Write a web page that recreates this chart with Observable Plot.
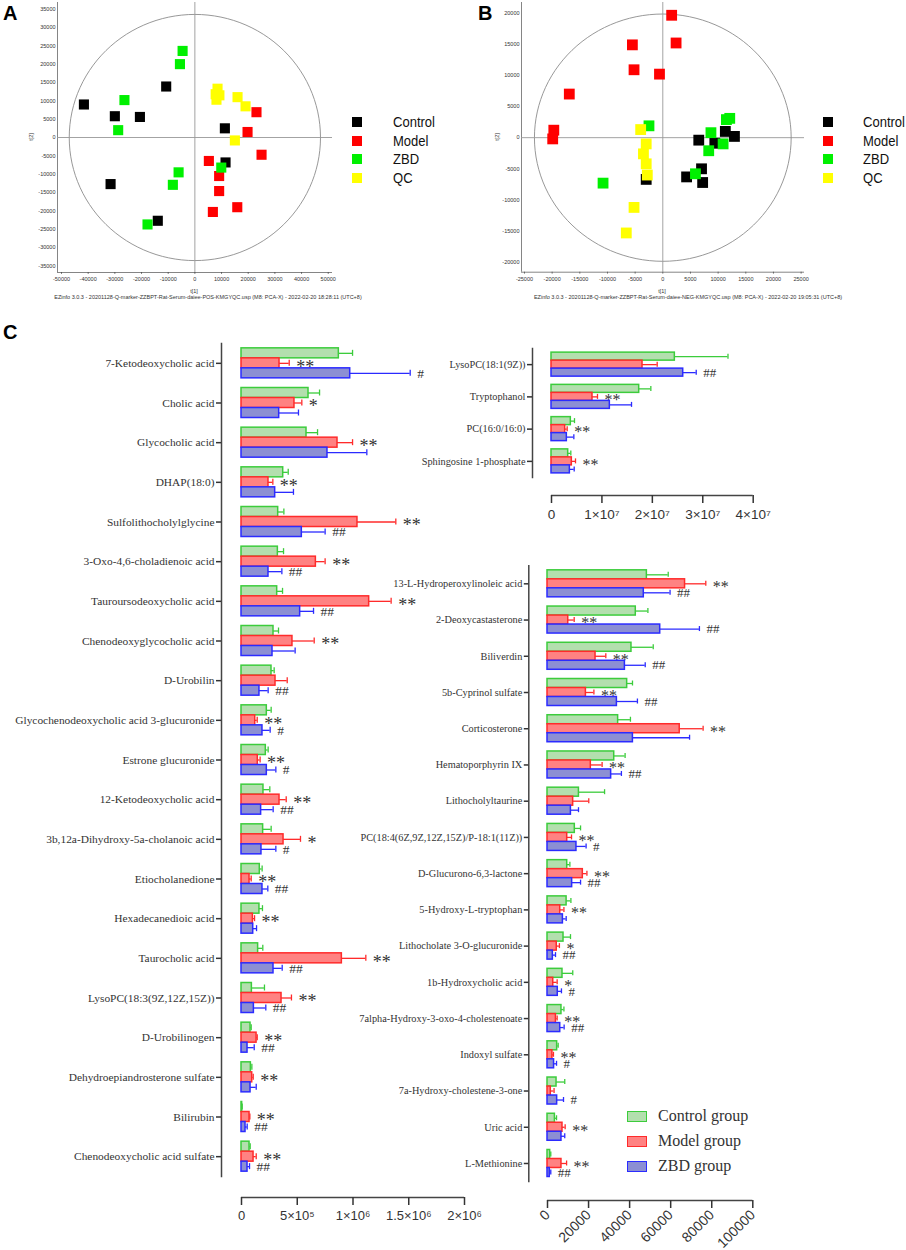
<!DOCTYPE html>
<html><head><meta charset="utf-8">
<script src="https://cdn.jsdelivr.net/npm/d3@7"></script>
<script src="https://cdn.jsdelivr.net/npm/@observablehq/plot@0.6"></script>
<style>
html,body{margin:0;padding:0;background:#fff;}
#root{position:relative;width:906px;height:1250px;overflow:hidden;font-family:"Liberation Sans",Arial,sans-serif;color:#222;}
.abs{position:absolute;}
.abs svg{overflow:visible;}
.lbl{position:absolute;white-space:nowrap;line-height:1;}
</style></head>
<body><div id="root"></div>
<script>
const SERIF = "Liberation Serif, Times New Roman, serif";
const SANS = "Liberation Sans, Arial, sans-serif";

// ---------------- PCA score plots (A: POS, B: NEG) ----------------
const pcaGroups = ["Control", "Model", "ZBD", "QC"];
const pcaColors = ["#000000", "#ff0000", "#00f000", "#ffff00"];

const posT1 = [
  [-41600, -10750, -30000, -20600, 11250, 11500, -31600, -13900],
  [23100, 19750, 25000, 5250, 9100, 9100, 15900, 6750],
  [-4600, -5600, -26400, -28750, -6100, -8250, 9900, -17750],
  [8500, 8100, 9200, 7800, 16000, 19000, 15000]
];
const posT2 = [
  [9000, 13900, 5800, 5600, 2500, -6800, -12700, -22700],
  [6900, 1500, -4700, -6400, -10500, -14600, -19000, -20300],
  [23600, 20000, 10200, 2000, -9500, -12900, -8200, -23700],
  [13300, 10300, 11500, 11800, 11000, 8500, -800]
];
const negT1 = [
  [6500, 11300, 12950, 9400, 7000, 4300, 7200, -3000],
  [1600, 2400, -5500, -5200, -600, -16900, -19700, -19900],
  [-2500, 12100, 11500, 8700, 10900, 8300, 5900, -10800],
  [-4000, -3000, -3500, -3000, -2800, -5200, -6600]
];
const negT2 = [
  [-400, 1000, 200, -900, -5000, -6300, -7200, -6700],
  [19650, 15200, 14900, 10900, 10200, 7000, 1200, -200],
  [1900, 3100, 2900, 800, -1000, -2100, -5800, -7300],
  [1300, -1000, -2600, -4200, -6000, -11200, -15300]
];
const posXTicks = [-50000, -40000, -30000, -20000, -10000, 0, 10000, 20000, 30000, 40000, 50000];
const posYTicks = [-35000, -30000, -25000, -20000, -15000, -10000, -5000, 0, 5000, 10000, 15000, 20000, 25000, 30000, 35000];
const negXTicks = [-25000, -20000, -15000, -10000, -5000, 0, 5000, 10000, 15000, 20000, 25000];
const negYTicks = [-20000, -15000, -10000, -5000, 0, 5000, 10000, 15000, 20000];
const posEllipse = [47100, 33550];
const negEllipse = [23200, 19850];
const posCaption = "EZinfo 3.0.3 - 20201128-Q-marker-ZZBPT-Rat-Serum-daiee-POS-KMGYQC.usp (M8: PCA-X) - 2022-02-20 18:28:11 (UTC+8)";
const negCaption = "EZinfo 3.0.3 - 20201128-Q-marker-ZZBPT-Rat-Serum-daiee-NEG-KMGYQC.usp (M8: PCA-X) - 2022-02-20 19:05:31 (UTC+8)";

// ---------------- Panel C bar charts ----------------
const groupNames = ["Control group", "Model group", "ZBD group"];
const barFill = ["#b3dfae", "#ff8282", "#8c8fd3"];
const barStroke = ["#3ccc3c", "#ff2b2b", "#2b2bff"];

const leftCats = ["7-Ketodeoxycholic acid", "Cholic acid", "Glycocholic acid", "DHAP(18:0)", "Sulfolithocholylglycine",
  "3-Oxo-4,6-choladienoic acid", "Tauroursodeoxycholic acid", "Chenodeoxyglycocholic acid", "D-Urobilin",
  "Glycochenodeoxycholic acid 3-glucuronide", "Estrone glucuronide", "12-Ketodeoxycholic acid",
  "3b,12a-Dihydroxy-5a-cholanoic acid", "Etiocholanedione", "Hexadecanedioic acid", "Taurocholic acid",
  "LysoPC(18:3(9Z,12Z,15Z))", "D-Urobilinogen", "Dehydroepiandrosterone sulfate", "Bilirubin",
  "Chenodeoxycholic acid sulfate"];
const leftControl = [873000, 601000, 583000, 374000, 329000, 326000, 320000, 287000, 269000, 227000, 218000, 197000, 194000, 164000, 161000, 149000, 93000, 81000, 84000, 6000, 72000];
const leftControlSd = [123000, 99000, 99000, 45000, 51000, 51000, 48000, 45000, 24000, 39000, 21000, 57000, 72000, 21000, 27000, 42000, 113000, 6000, 9000, 0, 6000];
const leftModel = [341000, 475000, 861000, 242000, 1040000, 667000, 1145000, 457000, 305000, 123000, 146000, 341000, 377000, 72000, 102000, 900000, 359000, 135000, 96000, 72000, 108000];
const leftModelSd = [87000, 66000, 135000, 39000, 344000, 83000, 197000, 195000, 105000, 18000, 21000, 60000, 152000, 15000, 15000, 215000, 89000, 6000, 9000, 3000, 24000];
const leftZbd = [975000, 338000, 771000, 302000, 541000, 242000, 526000, 278000, 161000, 188000, 227000, 176000, 179000, 188000, 105000, 287000, 111000, 54000, 81000, 36000, 54000];
const leftZbdSd = [538000, 173000, 353000, 164000, 209000, 120000, 120000, 203000, 78000, 69000, 81000, 108000, 129000, 48000, 30000, 78000, 107000, 60000, 51000, 15000, 18000];
const leftModelSig = ["**", "*", "**", "**", "**", "**", "**", "**", "", "**", "**", "**", "*", "**", "**", "**", "**", "**", "**", "**", "**"];
const leftZbdSig = ["#", "", "", "", "##", "##", "##", "", "##", "#", "#", "##", "#", "##", "", "##", "##", "##", "", "##", "##"];
const leftTicks = [0, 500000, 1000000, 1500000, 2000000];
const leftTickLabels = ["0", "5×10⁵", "1×10⁶", "1.5×10⁶", "2×10⁶"];

const rtCats = ["LysoPC(18:1(9Z))", "Tryptophanol", "PC(16:0/16:0)", "Sphingosine 1-phosphate"];
const rtControl = [24460000, 17390000, 3830000, 3310000];
const rtControlSd = [10540000, 2310000, 730000, 520000];
const rtModel = [18050000, 8130000, 2710000, 4030000];
const rtModelSd = [2910000, 990000, 400000, 730000];
const rtZbd = [26120000, 11570000, 3040000, 3640000];
const rtZbdSd = [2580000, 4300000, 1390000, 860000];
const rtModelSig = ["", "**", "**", "**"];
const rtZbdSig = ["##", "", "", ""];
const rtTicks = [0, 10000000, 20000000, 30000000, 40000000];
const rtTickLabels = ["0", "1×10⁷", "2×10⁷", "3×10⁷", "4×10⁷"];

const rbCats = ["13-L-Hydroperoxylinoleic acid", "2-Deoxycastasterone", "Biliverdin", "5b-Cyprinol sulfate",
  "Corticosterone", "Hematoporphyrin IX", "Lithocholyltaurine", "PC(18:4(6Z,9Z,12Z,15Z)/P-18:1(11Z))",
  "D-Glucurono-6,3-lactone", "5-Hydroxy-L-tryptophan", "Lithocholate 3-O-glucuronide", "1b-Hydroxycholic acid",
  "7alpha-Hydroxy-3-oxo-4-cholestenoate", "Indoxyl sulfate", "7a-Hydroxy-cholestene-3-one", "Uric acid", "L-Methionine"];
const rbControl = [48400, 43000, 40900, 38800, 34400, 32500, 15300, 13300, 9600, 9300, 7800, 7300, 6800, 4700, 4400, 3600, 1300];
const rbControlSd = [10400, 5900, 10600, 2600, 6000, 5300, 12500, 2800, 1300, 2100, 3400, 5000, 1200, 500, 4000, 800, 300];
const rbModel = [67000, 10100, 23400, 18700, 64400, 21100, 12500, 9600, 17200, 6200, 4500, 2800, 4100, 2400, 1600, 7300, 6800];
const rbModelSd = [10100, 2900, 5000, 3900, 11400, 5500, 7600, 2100, 2000, 1800, 1300, 1900, 600, 500, 1600, 1300, 2500];
const rbZbd = [46900, 54900, 37700, 33800, 41600, 31000, 11400, 14100, 12000, 7500, 2600, 5000, 6200, 3200, 4700, 6800, 1100];
const rbZbdSd = [12800, 19100, 9900, 10000, 27600, 5000, 3700, 4700, 4100, 1600, 1300, 1800, 1900, 1200, 3100, 1600, 500];
const rbModelSig = ["**", "**", "**", "**", "**", "**", "", "**", "**", "**", "*", "*", "**", "**", "", "**", "**"];
const rbZbdSig = ["##", "##", "##", "##", "", "##", "", "#", "##", "", "##", "#", "##", "#", "#", "", "##"];
const rbTicks = [0, 20000, 40000, 60000, 80000, 100000];
const rbTickLabels = ["0", "20000", "40000", "60000", "80000", "100000"];

// ---------------- helpers ----------------
const root = document.getElementById("root");
function place(el, left, top, width) {
  const w = document.createElement("div");
  w.className = "abs";
  w.style.left = left + "px"; w.style.top = top + "px";
  if (width) w.style.width = width + "px";
  w.appendChild(el);
  root.appendChild(w);
}
function label(text, x, y, css) {
  const d = document.createElement("div");
  d.className = "lbl";
  d.textContent = text;
  d.style.left = x + "px"; d.style.top = y + "px";
  Object.assign(d.style, css || {});
  root.appendChild(d);
  return d;
}

function pcaPlot(c) {
  const ell = d3.range(0, 361, 3).map(a => ({x: c.radii[0] * Math.cos(a * Math.PI / 180), y: c.radii[1] * Math.sin(a * Math.PI / 180)}));
  const marks = [
    Plot.ruleX([c.xDomain[0]], {stroke: "#777", strokeWidth: 0.9}),
    Plot.ruleY([c.yDomain[0]], {stroke: "#777", strokeWidth: 0.9}),
    Plot.line(ell, {x: "x", y: "y", stroke: "#8c8c8c", strokeWidth: 0.9}),
    Plot.ruleX([0], {stroke: "#999", strokeWidth: 0.9}),
    Plot.ruleY([0], {stroke: "#999", strokeWidth: 0.9})
  ];
  pcaGroups.forEach((g, gi) => {
    const pts = c.t1[gi].map((x, j) => ({x, y: c.t2[gi][j]}));
    marks.push(Plot.dot(pts, {x: "x", y: "y", symbol: "square", r: c.r, fill: pcaColors[gi], stroke: "none"}));
  });
  marks.push(
    Plot.axisX(c.xTicks, {tickSize: 2, tickPadding: 3, fontSize: 5.5, fontFamily: SANS, tickFormat: d => String(d), label: null, strokeWidth: 0.6}),
    Plot.axisY(c.yTicks, {tickSize: 0, tickPadding: 2, fontSize: 5.5, fontFamily: SANS, tickFormat: d => String(d), label: null})
  );
  return Plot.plot({
    width: c.width, height: c.height,
    marginLeft: c.mL, marginRight: c.mR, marginTop: c.mT, marginBottom: c.mB,
    style: {background: "transparent", overflow: "visible", color: "#333"},
    x: {domain: c.xDomain}, y: {domain: c.yDomain},
    marks
  });
}

function barPanel(c) {
  const n = c.cats.length;
  const step = (c.height - c.mT - c.mB) / n;
  const marks = [Plot.frame({anchor: "left", stroke: "#444", strokeWidth: 1.5})];
  for (let g = 0; g < 3; g++) {
    const rows = c.cats.map((cat, i) => ({cat, v: c.vals[g][i], e: c.vals[g][i] + c.sds[g][i], s: g === 1 ? c.sigM[i] : g === 2 ? c.sigZ[i] : ""}));
    const dy = (g - 1) * c.barH;
    const ib = (step - c.barH) / 2, ic = (step - c.capH) / 2;
    marks.push(
      Plot.ruleY(rows, {y: "cat", x1: "v", x2: "e", stroke: barStroke[g], strokeWidth: 1.3, dy}),
      Plot.tickX(rows, {y: "cat", x: "e", stroke: barStroke[g], strokeWidth: 1.3, dy, insetTop: ic, insetBottom: ic}),
      Plot.barX(rows, {y: "cat", x: "v", fill: barFill[g], stroke: barStroke[g], strokeWidth: 1.5, dy, insetTop: ib, insetBottom: ib})
    );
    if (g > 0) {
      const fs = g === 1 ? c.starSize : c.hashSize;
      marks.push(Plot.text(rows.filter(d => d.s), {
        y: "cat", x: "e", text: "s", dx: 7, dy: dy + (g === 1 ? 0.2 * fs : 0), textAnchor: "start",
        fontSize: fs, fontFamily: SERIF, fill: "#333"
      }));
    }
  }
  marks.push(Plot.axisY({tickSize: c.tickSize, tickPadding: c.tickPad, fontSize: c.fontSize, fontFamily: SERIF, strokeWidth: 1.5, label: null}));
  const bars = Plot.plot({
    width: c.width, height: c.height,
    marginLeft: c.mL, marginRight: c.mR, marginTop: c.mT, marginBottom: c.mB,
    style: {background: "transparent", overflow: "visible", color: "#333"},
    x: {domain: [c.ticks[0], c.ticks[c.ticks.length - 1]], range: c.xRange, axis: null},
    y: {domain: c.cats, padding: 0, round: false},
    marks
  });
  const axis = Plot.plot({
    width: c.width, height: 70,
    marginLeft: c.mL, marginRight: c.mR, marginTop: 4, marginBottom: 65,
    style: {background: "transparent", overflow: "visible", color: "#333"},
    x: {domain: [c.ticks[0], c.ticks[c.ticks.length - 1]], range: c.xRange},
    y: {domain: [0, 1], axis: null},
    marks: [
      Plot.ruleY([0], {x1: () => c.ticks[0], x2: () => c.ticks[c.ticks.length - 1], stroke: "#444", strokeWidth: 1.5}),
      Plot.axisX(c.ticks, {
        tickSize: 8, tickPadding: c.xPad, tickFormat: d => c.tickLabels[c.ticks.indexOf(d)],
        fontSize: c.xFont, fontFamily: SANS, tickRotate: c.rot || 0, strokeWidth: 1.5, label: null
      })
    ]
  });
  place(bars, c.left, c.top, c.width);
  place(axis, c.left, c.axisLine - 5, c.width);
}

// ---------------- Panel A ----------------
place(pcaPlot({
  t1: posT1, t2: posT2, xTicks: posXTicks, yTicks: posYTicks, radii: posEllipse,
  xDomain: [-51500, 51600], yDomain: [-36800, 36800],
  width: 460, height: 310, mL: 57, mR: 128, mT: 2, mB: 38, r: 5.7
}), 0, 0, 460);
label("A", 3, 3, {fontSize: "20px", fontWeight: "bold", fontFamily: SANS, color: "#000"});
label("t[1]", 194, 292, {fontSize: "5.5px", transform: "translate(-50%,-50%)", color: "#333"});
label("t[2]", 32, 137, {fontSize: "5.5px", transform: "translate(-50%,-50%) rotate(-90deg)", color: "#333"});
label(posCaption, 208, 298, {fontSize: "5.5px", transform: "translate(-50%,-50%)", color: "#333"});

// ---------------- Panel B ----------------
place(pcaPlot({
  t1: negT1, t2: negT2, xTicks: negXTicks, yTicks: negYTicks, radii: negEllipse,
  xDomain: [-25540, 25610], yDomain: [-21600, 21700],
  width: 456, height: 310, mL: 71, mR: 102, mT: 2, mB: 38.3, r: 6.1
}), 450, 0, 456);
label("B", 478, 3, {fontSize: "20px", fontWeight: "bold", fontFamily: SANS, color: "#000"});
label("t[1]", 662, 292, {fontSize: "5.5px", transform: "translate(-50%,-50%)", color: "#333"});
label("t[2]", 498, 137, {fontSize: "5.5px", transform: "translate(-50%,-50%) rotate(-90deg)", color: "#333"});
label(negCaption, 688, 298, {fontSize: "5.5px", transform: "translate(-50%,-50%)", color: "#333"});

// PCA legends
[[352, 393], [823, 863]].forEach(([sx, tx]) => {
  pcaGroups.forEach((g, i) => {
    const cy = 122.3 + i * 18.4;
    label("", sx, cy - 5, {width: "10px", height: "10px", background: pcaColors[i]});
    label(g, tx, cy, {fontSize: "15.5px", fontFamily: SANS, transform: "translateY(-50%) scaleX(0.84)", transformOrigin: "left center", color: "#111"});
  });
});

// ---------------- Panel C ----------------
label("C", 3, 322, {fontSize: "20px", fontWeight: "bold", fontFamily: SANS, color: "#000"});

barPanel({
  cats: leftCats, vals: [leftControl, leftModel, leftZbd], sds: [leftControlSd, leftModelSd, leftZbdSd],
  sigM: leftModelSig, sigZ: leftZbdSig, ticks: leftTicks, tickLabels: leftTickLabels,
  left: 0, top: 330, width: 500, height: 860, mL: 221, mR: 20, mT: 13, mB: 14,
  xRange: [241, 464], axisLine: 1197, barH: 10, capH: 6, fontSize: 11.4, tickSize: 5, tickPad: 2,
  starSize: 18, hashSize: 13.5, xPad: 5, xFont: 13
});

barPanel({
  cats: rtCats, vals: [rtControl, rtModel, rtZbd], sds: [rtControlSd, rtModelSd, rtZbdSd],
  sigM: rtModelSig, sigZ: rtZbdSig, ticks: rtTicks, tickLabels: rtTickLabels,
  left: 400, top: 330, width: 450, height: 160, mL: 132, mR: 60, mT: 18, mB: 13,
  xRange: [151, 352.7], axisLine: 495, barH: 8, capH: 5, fontSize: 10.3, tickSize: 5, tickPad: 2,
  starSize: 16, hashSize: 13, xPad: 6, xFont: 13.5
});

barPanel({
  cats: rbCats, vals: [rbControl, rbModel, rbZbd], sds: [rbControlSd, rbModelSd, rbZbdSd],
  sigM: rbModelSig, sigZ: rbZbdSig, ticks: rbTicks, tickLabels: rbTickLabels,
  left: 330, top: 550, width: 520, height: 650, mL: 198.3, mR: 40, mT: 15.2, mB: 18.9,
  xRange: [217, 422.3], axisLine: 1200, barH: 9, capH: 5, fontSize: 10.3, tickSize: 4.5, tickPad: 2,
  starSize: 16, hashSize: 13, xPad: 4, rot: -45, xFont: 14
});

// legend for panel C
groupNames.forEach((g, i) => {
  const cy = 1116 + i * 25;
  label("", 627, cy - 5.5, {width: "18px", height: "9px", background: barFill[i], border: "1.5px solid " + barStroke[i]});
  label(g, 658, cy, {fontSize: "16px", fontFamily: SERIF, transform: "translateY(-50%)", color: "#333"});
});
</script></body></html>
